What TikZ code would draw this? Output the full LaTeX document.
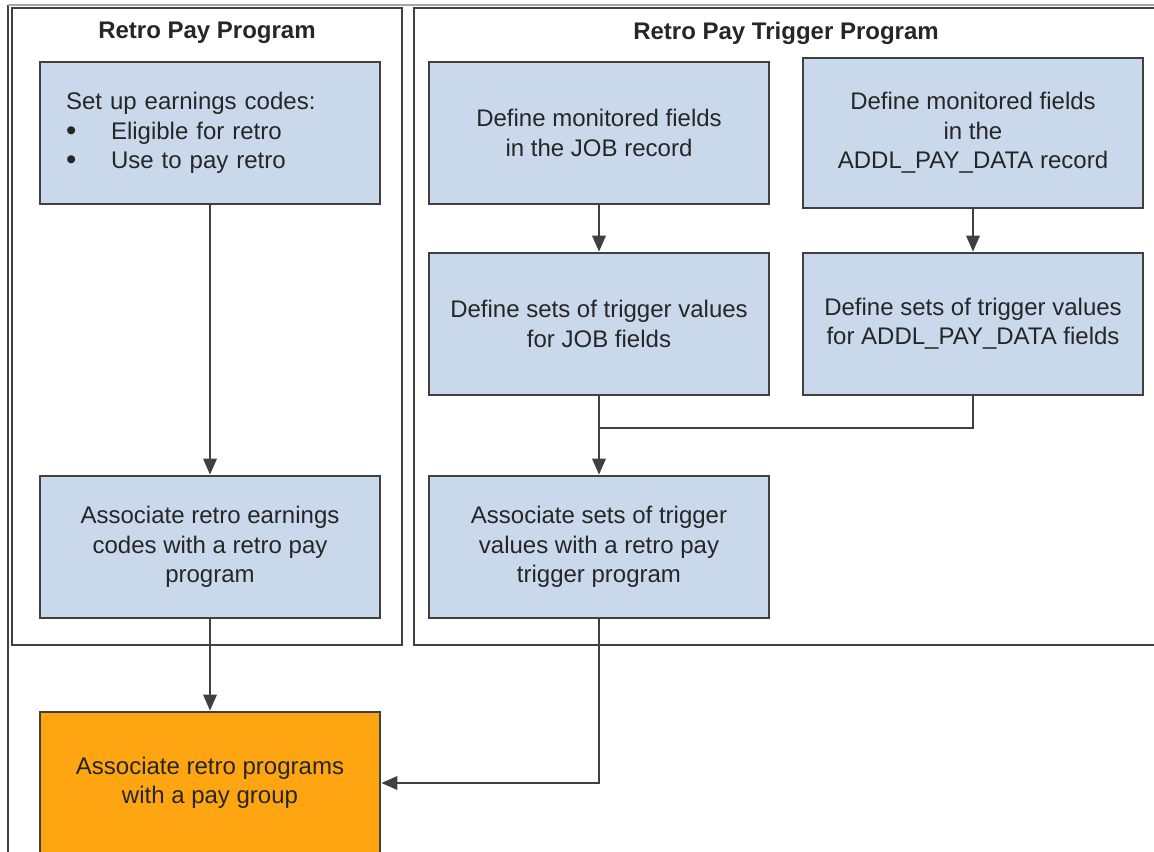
\documentclass[tikz,border=0pt]{standalone}
\usepackage{fontspec}
\setmainfont{Liberation Sans}
\usetikzlibrary{arrows.meta}
\definecolor{boxblue}{RGB}{201,216,235}
\definecolor{boxorange}{RGB}{255,165,17}
\definecolor{edgegray}{RGB}{64,64,64}
\newcommand{\listdot}{\makebox[33.75pt][l]{\raisebox{-1pt}{\fontsize{22}{22}\selectfont\textbullet}}}

\begin{document}
\begin{tikzpicture}[
		x=0.75pt, y=-0.75pt,
		every node/.style={font=\fontsize{18}{22}\selectfont, text=black!85},
		stepbox/.style={draw=edgegray, line width=2pt, fill=boxblue,
			minimum width=255pt, minimum height=106.5pt, align=center, inner sep=5pt},
		panel/.style={draw=edgegray, line width=1.8pt},
		link/.style={draw=edgegray, line width=1.75pt},
		flow/.style={link, -{Triangle[length=12pt,width=10pt]}}
		]
		\useasboundingbox (0,0) rectangle (1154,852);
		
		% outer frame and the two program panels
		\draw[edgegray, line width=1.6pt] (8,5) -- (8,860);
		\draw[gray!70, line width=1.6pt] (8,5) -- (1160,5);
		\draw[panel] (12,8) rectangle (402,645);
		\draw[panel] (414,8) rectangle (1162,645);
		
		\node[font=\fontsize{18}{22}\selectfont\bfseries] (retrotitle) at (207,33) {Retro Pay Program};
		\node[font=\fontsize{18}{22}\selectfont\bfseries] (triggertitle) at (786,33) {Retro Pay Trigger Program};
		
		% retro pay program
		\node[stepbox, align=left, text width=216pt, inner xsep=19.5pt] (earnings) at (210,133)
		{Set up earnings codes:\\
			\listdot Eligible for retro\\
			\listdot Use to pay retro};
		\node[stepbox] (assoccodes) at (210,547) {Associate retro earnings\\codes with a retro pay\\program};
		\node[stepbox, fill=boxorange] (paygroup) at (210,783) {Associate retro programs\\with a pay group};
		
		% retro pay trigger program
		\node[stepbox] (jobfields) at (599,133) {Define monitored fields\\in the JOB record};
		\node[stepbox, minimum height=112.5pt] (addlfields) at (973,133) {Define monitored fields\\in the\\ADDL\_PAY\_DATA record};
		\node[stepbox] (jobtrig) at (599,324) {Define sets of trigger values\\for JOB fields};
		\node[stepbox] (addltrig) at (973,324) {Define sets of trigger values\\for ADDL\_PAY\_DATA fields};
		\node[stepbox] (assoctrig) at (599,547) {Associate sets of trigger\\values with a retro pay\\trigger program};
		
		\coordinate (merge) at (599,428);
		
		\draw[flow] (earnings) -- (assoccodes);
		\draw[flow] (assoccodes) -- (paygroup);
		\draw[flow] (jobfields) -- (jobtrig);
		\draw[flow] (addlfields) -- (addltrig);
		\draw[flow] (jobtrig) -- (assoctrig);
		\draw[link] (addltrig.south) |- (merge);
		\draw[flow] (assoctrig.south) |- (paygroup.east);
	\end{tikzpicture}
\end{document}
